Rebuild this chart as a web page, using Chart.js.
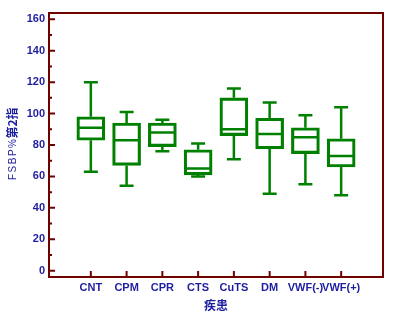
<!DOCTYPE html>
<html lang="zh">
<head>
    <meta charset="UTF-8">
    <title>FSBP% 第2指</title>
    <style>
        body {
            margin: 0;
            padding: 0;
            background: #ffffff;
        }
        .chart-box {
            width: 400px;
            height: 322px;
            position: relative;
        }
    </style>
</head>
<body>
    <div class="chart-box">
        <canvas id="boxChart"></canvas>
    </div>
    <script src="https://cdn.jsdelivr.net/npm/chart.js"></script>
    <script>
        // five-number summaries per disease group
        const categories = ['CNT', 'CPM', 'CPR', 'CTS', 'CuTS', 'DM', 'VWF(-)', 'VWF(+)'];
        const minVals    = [63, 54, 76, 60, 71, 49, 55, 48];
        const q1Vals     = [83, 67, 79, 61, 86, 77.5, 74.5, 66];
        const medianVals = [91, 83, 88, 65, 90, 87, 85, 73];
        const q3Vals     = [98, 94, 94, 77, 110, 97, 91, 84];
        const maxVals    = [120, 101, 96, 81, 116, 107, 99, 104];
        const yTicks     = [0, 20, 40, 60, 80, 100, 120, 140, 160];

        const axisColor = '#6e0000';
        const labelColor = '#1e1ea0';
        const boxColor = '#008000';

        // whiskers, medians, the frame and the inward ticks
        const boxExtras = {
            id: 'boxExtras',
            afterDatasetsDraw(chart) {
                const ctx = chart.ctx;
                const xs = chart.scales.x;
                const ys = chart.scales.y;
                const area = chart.chartArea;

                ctx.save();
                ctx.strokeStyle = boxColor;
                ctx.lineWidth = 2.5;
                ctx.lineCap = 'butt';
                categories.forEach((c, i) => {
                    const x = xs.getPixelForValue(i);
                    const half = 13.5, cap = 7;
                    ctx.beginPath();
                    // median
                    ctx.moveTo(x - half, ys.getPixelForValue(medianVals[i]));
                    ctx.lineTo(x + half, ys.getPixelForValue(medianVals[i]));
                    // upper whisker
                    ctx.moveTo(x, ys.getPixelForValue(q3Vals[i]));
                    ctx.lineTo(x, ys.getPixelForValue(maxVals[i]));
                    ctx.moveTo(x - cap, ys.getPixelForValue(maxVals[i]));
                    ctx.lineTo(x + cap, ys.getPixelForValue(maxVals[i]));
                    // lower whisker
                    ctx.moveTo(x, ys.getPixelForValue(q1Vals[i]));
                    ctx.lineTo(x, ys.getPixelForValue(minVals[i]));
                    ctx.moveTo(x - cap, ys.getPixelForValue(minVals[i]));
                    ctx.lineTo(x + cap, ys.getPixelForValue(minVals[i]));
                    ctx.stroke();
                });

                ctx.strokeStyle = axisColor;
                ctx.lineWidth = 2;
                ctx.strokeRect(area.left, area.top, area.right - area.left, area.bottom - area.top);

                ctx.beginPath();
                yTicks.forEach((v, i) => {
                    const y = ys.getPixelForValue(v);
                    ctx.moveTo(area.left, y);
                    ctx.lineTo(area.left + 6, y);
                    if (i < yTicks.length - 1) {
                        const ym = ys.getPixelForValue(v + 10);
                        ctx.moveTo(area.left, ym);
                        ctx.lineTo(area.left + 3, ym);
                    }
                });
                categories.forEach((c, i) => {
                    const x = xs.getPixelForValue(i);
                    ctx.moveTo(x, area.bottom);
                    ctx.lineTo(x, area.bottom - 6);
                });
                ctx.stroke();

                // y axis title: latin part regular, CJK part bold
                ctx.translate(12, 180);
                ctx.rotate(-Math.PI / 2);
                ctx.fillStyle = labelColor;
                ctx.textBaseline = 'middle';
                ctx.textAlign = 'left';
                ctx.font = '10px "Liberation Sans", Arial, sans-serif';
                let pos = 0;
                for (const ch of 'FSBP%') {
                    ctx.fillText(ch, pos, 1);
                    pos += ctx.measureText(ch).width + 1.5;
                }
                ctx.font = 'bold 12px "Noto Sans CJK SC", sans-serif';
                ctx.fillText('第2指', pos - 1, 0);
                ctx.restore();
            }
        };

        const ctx = document.getElementById('boxChart').getContext('2d');
        new Chart(ctx, {
            type: 'bar',
            data: {
                datasets: [{
                    data: categories.map((c, i) => ({ x: i, y: [q1Vals[i], q3Vals[i]] })),
                    backgroundColor: 'rgba(0,0,0,0)',
                    borderColor: boxColor,
                    borderWidth: 2.5,
                    borderSkipped: false,
                    barThickness: 28
                }]
            },
            options: {
                responsive: true,
                maintainAspectRatio: false,
                animation: false,
                layout: {
                    padding: { left: 0, right: 17, top: 13, bottom: 0 }
                },
                plugins: {
                    legend: { display: false },
                    tooltip: { enabled: false }
                },
                scales: {
                    x: {
                        type: 'linear',
                        offset: false,
                        min: -1.17,
                        max: 8.17,
                        grid: { display: false, drawTicks: false },
                        border: { display: false },
                        afterBuildTicks: (scale) => {
                            scale.ticks = categories.map((c, i) => ({ value: i }));
                        },
                        afterFit: (scale) => { scale.height = 45; },
                        ticks: {
                            autoSkip: false,
                            maxRotation: 0,
                            padding: 4,
                            color: labelColor,
                            font: { family: '"Liberation Sans", Arial, sans-serif', size: 11, weight: 'bold' },
                            callback: (v) => categories[v]
                        },
                        title: {
                            display: true,
                            text: '疾患',
                            color: labelColor,
                            padding: { top: 2, bottom: 9 },
                            font: { family: '"Noto Sans CJK SC", sans-serif', size: 12, weight: 'bold' }
                        }
                    },
                    y: {
                        min: -4,
                        max: 164,
                        grid: { display: false, drawTicks: false },
                        border: { display: false },
                        afterBuildTicks: (scale) => {
                            scale.ticks = yTicks.map(v => ({ value: v }));
                        },
                        afterFit: (scale) => { scale.width = 49; },
                        ticks: {
                            padding: 4,
                            color: labelColor,
                            font: { family: '"Liberation Sans", Arial, sans-serif', size: 11, weight: 'bold' }
                        }
                    }
                }
            },
            plugins: [boxExtras]
        });
    </script>
</body>
</html>
